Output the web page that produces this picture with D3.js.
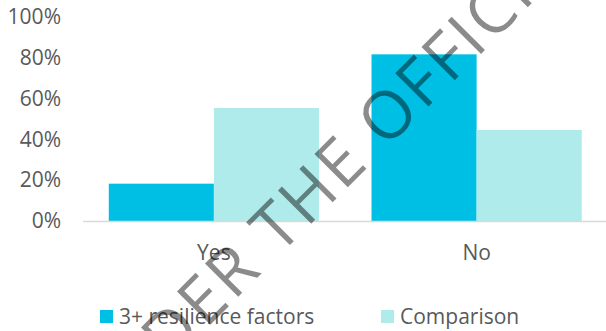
<!DOCTYPE html>
<html>
<head>
<meta charset="utf-8">
<script src="https://cdn.jsdelivr.net/npm/d3@7"></script>
<style>
  html, body { margin: 0; padding: 0; background: #fff; }
  svg { display: block; }
</style>
</head>
<body>
<div id="chart"></div>
<script>
// chart data
var categories = ["Yes", "No"];
var seriesNames = ["3+ resilience factors", "Comparison"];
var resilienceValues = [18.3, 81.7];
var comparisonValues = [55.4, 44.6];
var yTicks = [0, 20, 40, 60, 80, 100];
var watermarkText = "UNDER THE OFFICIAL";

var seriesColors = ["#00BFE5", "#AEEBEA"];

var width = 606, height = 331;
var margin = {top: 17, right: -2, bottom: 110, left: 82.5};

var svg = d3.select("#chart").append("svg")
    .attr("width", width)
    .attr("height", height);

var fontFamily = "'Open Sans', 'Liberation Sans', sans-serif";

// scales
var x0 = d3.scaleBand()
    .domain(categories)
    .range([margin.left, width - margin.right])
    .paddingInner(0.2)
    .paddingOuter(0.1);

var x1 = d3.scaleBand()
    .domain(seriesNames)
    .range([0, x0.bandwidth()]);

var y = d3.scaleLinear()
    .domain([0, 100])
    .range([height - margin.bottom, margin.top]);

// build rows from the arrays
var rows = categories.map(function (c, i) {
    return {cat: c, vals: [
        {name: seriesNames[0], v: resilienceValues[i]},
        {name: seriesNames[1], v: comparisonValues[i]}
    ]};
});

var color = d3.scaleOrdinal().domain(seriesNames).range(seriesColors);

// bars
var g = svg.selectAll(".grp")
    .data(rows)
    .enter().append("g")
    .attr("class", "grp")
    .attr("transform", function (d) { return "translate(" + x0(d.cat) + ",0)"; });

g.selectAll("rect")
    .data(function (d) { return d.vals; })
    .enter().append("rect")
    .attr("x", function (d) { return x1(d.name); })
    .attr("width", x1.bandwidth())
    .attr("y", function (d) { return y(d.v); })
    .attr("height", function (d) { return y(0) - y(d.v); })
    .attr("fill", function (d) { return color(d.name); });

// y axis labels (no line)
var yAxis = svg.append("g")
    .attr("transform", "translate(61,0)")
    .call(d3.axisLeft(y).tickValues(yTicks).tickSize(0).tickPadding(0)
        .tickFormat(function (d) { return d + "%"; }));
yAxis.select(".domain").remove();
yAxis.selectAll("text")
    .attr("font-family", fontFamily)
    .attr("font-size", "21px")
    .attr("fill", "#595959");

// x axis
var xAxis = svg.append("g")
    .attr("transform", "translate(0," + y(0) + ")")
    .call(d3.axisBottom(x0).tickSize(0).tickPadding(24));
xAxis.select(".domain")
    .attr("stroke", "#D9D9D9")
    .attr("stroke-width", 1.5);
xAxis.selectAll("text")
    .attr("font-family", fontFamily)
    .attr("font-size", "21px")
    .attr("fill", "#595959");

// legend
var legendX = [100, 381];
var legend = svg.selectAll(".legend")
    .data(seriesNames)
    .enter().append("g")
    .attr("class", "legend")
    .attr("transform", function (d, i) { return "translate(" + legendX[i] + ",310)"; });

legend.append("rect")
    .attr("width", 13)
    .attr("height", 13)
    .attr("fill", function (d) { return color(d); });

legend.append("text")
    .attr("x", 19)
    .attr("y", 6.5)
    .attr("dy", "0.35em")
    .attr("font-family", fontFamily)
    .attr("font-size", "21px")
    .attr("fill", "#595959")
    .text(function (d) { return d; });

// watermark
var wmLayer = svg.append("g").attr("opacity", 0.45);
var wm = wmLayer.append("text")
    .attr("font-family", "'Open Sans', sans-serif")
    .attr("font-weight", 400)
    .attr("font-size", "66px")
    .attr("letter-spacing", "3px")
    .attr("fill", "#000")
    .text(watermarkText);
var pre = wm.node().getSubStringLength(0, watermarkText.indexOf("THE"));
wm.attr("transform", "translate(279,256) rotate(-45)")
  .attr("x", -pre)
  .attr("y", 0);
</script>
</body>
</html>
